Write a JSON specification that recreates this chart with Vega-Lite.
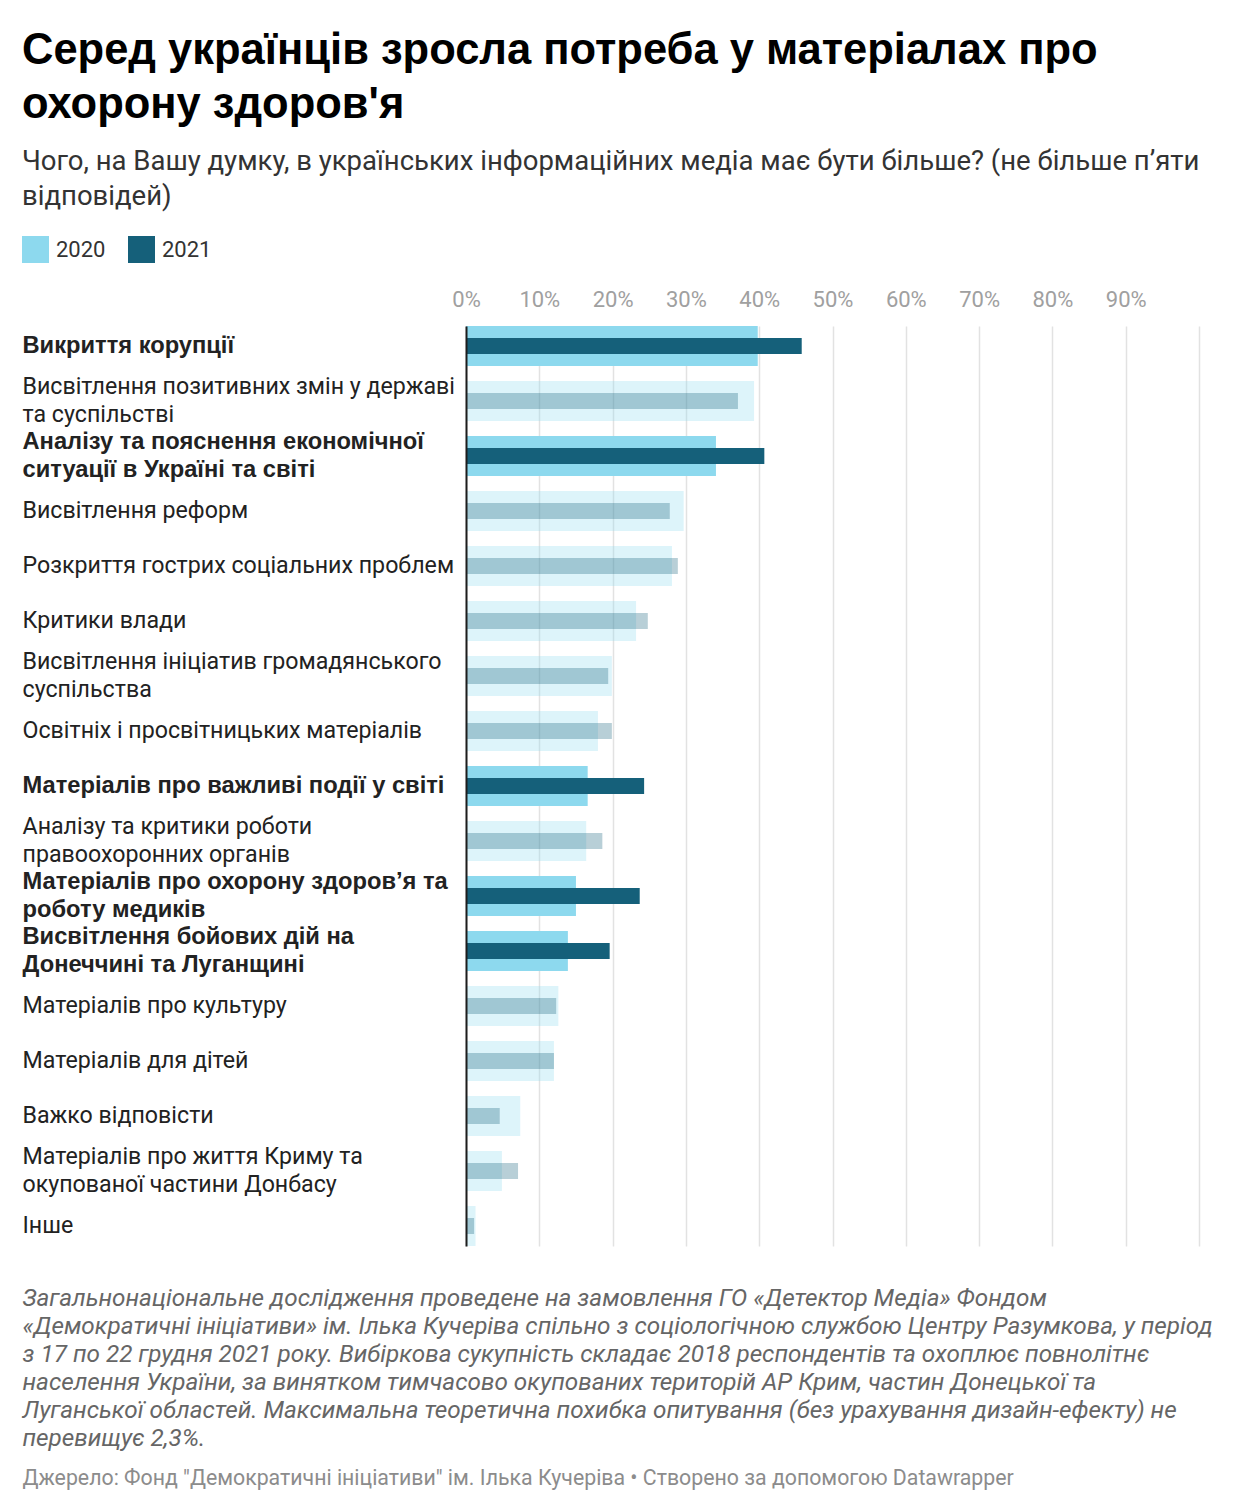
{
  "$schema": "https://vega.github.io/schema/vega-lite/v6.json",
  "width": 733,
  "height": 920,
  "autosize": {"type": "none"},
  "padding": {"left": 466, "top": 326, "right": 41, "bottom": 264},
  "background": "white",
  "config": {"view": {"stroke": null}, "font": "Roboto"},
  "title": {
    "text": ["Серед українців зросла потреба у матеріалах про", "охорону здоров'я"],
    "subtitle": ["Чого, на Вашу думку, в українських інформаційних медіа має бути більше? (не більше п’яти", "відповідей)"],
    "anchor": "start",
    "frame": "bounds",
    "font": "Liberation Sans",
    "fontSize": 43.5,
    "fontWeight": "bold",
    "color": "#000000",
    "lineHeight": 54,
    "subtitleFont": "Roboto",
    "subtitleFontSize": 27.5,
    "subtitleColor": "#333333",
    "subtitleLineHeight": 35,
    "subtitlePadding": 20,
    "offset": 25
  },
  "data": {
    "values": [
      {"cat": "Викриття корупції", "v2020": 39.8, "v2021": 45.8, "hl": true},
      {"cat": "Висвітлення позитивних змін у державі\nта суспільстві", "v2020": 39.3, "v2021": 37.1, "hl": false},
      {"cat": "Аналізу та пояснення економічної\nситуації в Україні та світі", "v2020": 34.1, "v2021": 40.7, "hl": true},
      {"cat": "Висвітлення реформ", "v2020": 29.7, "v2021": 27.8, "hl": false},
      {"cat": "Розкриття гострих соціальних проблем", "v2020": 28.1, "v2021": 28.9, "hl": false},
      {"cat": "Критики влади", "v2020": 23.2, "v2021": 24.8, "hl": false},
      {"cat": "Висвітлення ініціатив громадянського\nсуспільства", "v2020": 19.9, "v2021": 19.4, "hl": false},
      {"cat": "Освітніх і просвітницьких матеріалів", "v2020": 18.0, "v2021": 19.9, "hl": false},
      {"cat": "Матеріалів про важливі події у світі", "v2020": 16.6, "v2021": 24.3, "hl": true},
      {"cat": "Аналізу та критики роботи\nправоохоронних органів", "v2020": 16.4, "v2021": 18.6, "hl": false},
      {"cat": "Матеріалів про охорону здоров’я та\nроботу медиків", "v2020": 15.0, "v2021": 23.7, "hl": true},
      {"cat": "Висвітлення бойових дій на\nДонеччині та Луганщині", "v2020": 13.9, "v2021": 19.6, "hl": true},
      {"cat": "Матеріалів про культуру", "v2020": 12.6, "v2021": 12.3, "hl": false},
      {"cat": "Матеріалів для дітей", "v2020": 12.0, "v2021": 12.0, "hl": false},
      {"cat": "Важко відповісти", "v2020": 7.4, "v2021": 4.6, "hl": false},
      {"cat": "Матеріалів про життя Криму та\nокупованої частини Донбасу", "v2020": 4.9, "v2021": 7.1, "hl": false},
      {"cat": "Інше", "v2020": 1.3, "v2021": 1.1, "hl": false}
    ]
  },
  "layer": [
    {
      "mark": {"type": "bar", "size": 40},
      "encoding": {
        "y": {
          "field": "cat",
          "type": "nominal",
          "sort": null,
          "scale": {"paddingInner": 0.5, "paddingOuter": 0.1136},
          "axis": {
            "title": "Джерело: Фонд \"Демократичні ініціативи\" ім. Ілька Кучеріва • Створено за допомогою Datawrapper",
            "titleAngle": 0,
            "titleAlign": "left",
            "titleBaseline": "top",
            "titleX": -444,
            "titleY": 1141,
            "titleFont": "Roboto",
            "titleFontWeight": "normal",
            "titleFontSize": 21.3,
            "titleColor": "#8c8c8c",
            "titleLimit": 1300,
            "labelExpr": "split(datum.value, '\\n')",
            "labelAlign": "left",
            "labelBaseline": "middle",
            "labelPadding": 444,
            "labelLimit": 440,
            "labelFont": {
              "condition": {
                "test": "indexof(datum.value, 'Викриття корупції') >= 0 || indexof(datum.value, 'Аналізу та пояснення') >= 0 || indexof(datum.value, 'важливі події') >= 0 || indexof(datum.value, 'охорону здоров') >= 0 || indexof(datum.value, 'бойових дій') >= 0",
                "value": "Liberation Sans"
              },
              "value": "Roboto"
            },
            "labelFontSize": {
              "condition": {
                "test": "indexof(datum.value, 'Викриття корупції') >= 0 || indexof(datum.value, 'Аналізу та пояснення') >= 0 || indexof(datum.value, 'важливі події') >= 0 || indexof(datum.value, 'охорону здоров') >= 0 || indexof(datum.value, 'бойових дій') >= 0",
                "value": 23.7
              },
              "value": 23.2
            },
            "labelColor": "#222222",
            "labelLineHeight": 28,
            "labelOffset": {
              "condition": {"test": "indexof(datum.value, '\\n') >= 0", "value": -14},
              "value": 0
            },
            "labelFontWeight": {
              "condition": {
                "test": "indexof(datum.value, 'Викриття корупції') >= 0 || indexof(datum.value, 'Аналізу та пояснення') >= 0 || indexof(datum.value, 'важливі події') >= 0 || indexof(datum.value, 'охорону здоров') >= 0 || indexof(datum.value, 'бойових дій') >= 0",
                "value": "bold"
              },
              "value": "normal"
            },
            "labelOverlap": false,
            "ticks": false,
            "tickSize": 0,
            "domain": true,
            "domainColor": "#1d1d1d",
            "domainWidth": 2,
            "grid": false,
            "zindex": 1
          }
        },
        "x": {
          "field": "v2020",
          "type": "quantitative",
          "scale": {"domain": [0, 100], "nice": false},
          "axis": {
            "orient": "top",
            "values": [0, 10, 20, 30, 40, 50, 60, 70, 80, 90, 100],
            "labelExpr": "datum.value == 100 ? '' : datum.value + '%'",
            "grid": true,
            "gridColor": "#e2e2e2",
            "gridWidth": 1.5,
            "domain": false,
            "ticks": false,
            "labelFont": "Roboto",
            "labelFontSize": 22,
            "labelColor": "#a0a0a0",
            "labelPadding": 15,
            "labelFlush": false,
            "labelOverlap": false,
            "title": null
          }
        },
        "color": {
          "datum": "2020",
          "scale": {"domain": ["2020", "2021"], "range": ["#8dd9ee", "#15607a"]},
          "legend": {
            "orient": "none",
            "legendX": -444,
            "legendY": -90,
            "direction": "horizontal",
            "title": null,
            "symbolType": "square",
            "symbolSize": 729,
            "symbolStrokeWidth": 0,
            "symbolOpacity": 1,
            "labelFont": "Roboto",
            "labelFontSize": 22,
            "labelColor": "#333333",
            "labelOffset": 7,
            "columnPadding": 22
          }
        },
        "opacity": {"condition": {"test": "datum.hl", "value": 1}, "value": 0.3}
      }
    },
    {
      "mark": {"type": "bar", "size": 16},
      "encoding": {
        "y": {"field": "cat", "type": "nominal", "sort": null},
        "x": {
          "field": "v2021",
          "type": "quantitative",
          "scale": {"domain": [0, 100], "nice": false},
          "axis": {
            "orient": "bottom",
            "grid": false,
            "labels": false,
            "ticks": false,
            "domain": false,
            "title": [
              "Загальнонаціональне дослідження проведене на замовлення ГО «Детектор Медіа» Фондом",
              "«Демократичні ініціативи» ім. Ілька Кучеріва спільно з соціологічною службою Центру Разумкова, у період",
              "з 17 по 22 грудня 2021 року. Вибіркова сукупність складає 2018 респондентів та охоплює повнолітнє",
              "населення України, за винятком тимчасово окупованих територій АР Крим, частин Донецької та",
              "Луганської областей. Максимальна теоретична похибка опитування (без урахування дизайн-ефекту) не",
              "перевищує 2,3%."
            ],
            "titleFont": "Roboto",
            "titleFontStyle": "italic",
            "titleFontWeight": "normal",
            "titleFontSize": 24.3,
            "titleColor": "#666666",
            "titleLineHeight": 28,
            "titleAnchor": "start",
            "titleAlign": "left",
            "titleBaseline": "top",
            "titleAngle": 0,
            "titleX": -444,
            "titleY": 40,
            "titleLimit": 1300
          }
        },
        "color": {"datum": "2021"},
        "opacity": {"condition": {"test": "datum.hl", "value": 1}, "value": 0.3}
      }
    }
  ],
  "resolve": {"axis": {"x": "independent"}}
}
